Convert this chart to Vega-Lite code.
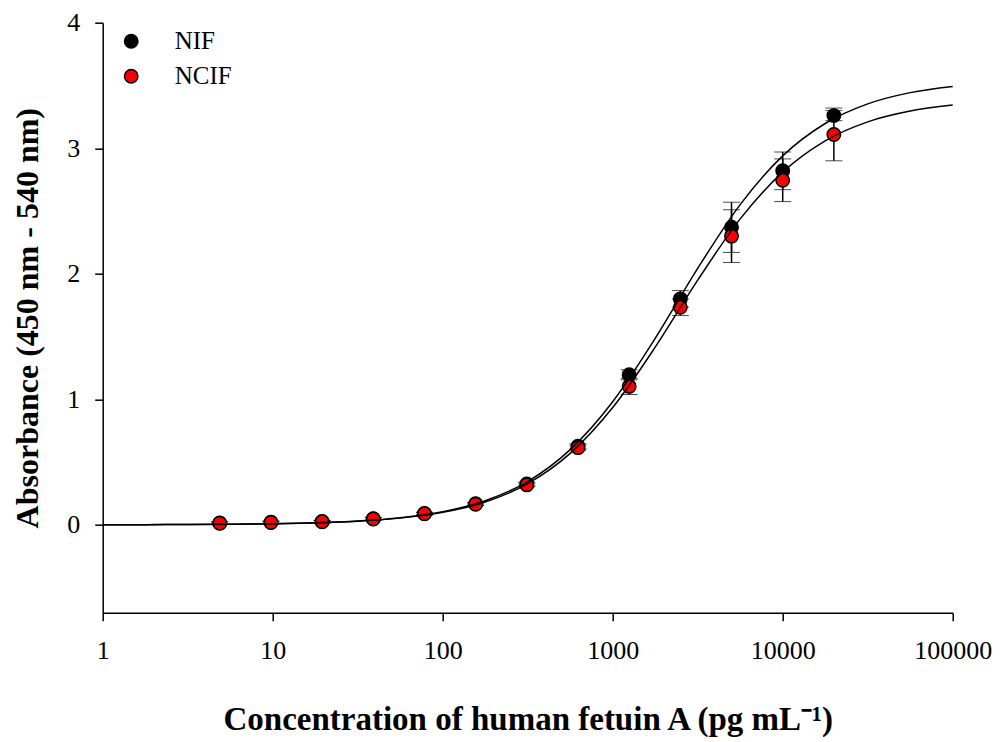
{
  "$schema": "https://vega.github.io/schema/vega-lite/v6.json",
  "width": 850,
  "height": 590,
  "autosize": {"type": "none"},
  "padding": {"left": 102.7, "top": 22.7, "right": 47.3, "bottom": 129.3},
  "background": "white",
  "config": {
    "view": {"stroke": null},
    "font": "Liberation Serif",
    "axis": {"grid": false, "domainColor": "black", "domainWidth": 1.5, "tickColor": "black", "tickWidth": 1.5, "tickSize": 8, "labelFont": "Liberation Serif", "labelFontSize": 26, "labelColor": "black", "titleFont": "Liberation Serif", "titleColor": "black", "titleFontWeight": "bold"}
  },
  "datasets": {
    "points": [
      {"series": "NIF", "conc": 4.88, "mean": 0.015, "sd": 0.01},
      {"series": "NIF", "conc": 9.77, "mean": 0.02, "sd": 0.01},
      {"series": "NIF", "conc": 19.53, "mean": 0.026, "sd": 0.01},
      {"series": "NIF", "conc": 39.06, "mean": 0.049, "sd": 0.01},
      {"series": "NIF", "conc": 78.13, "mean": 0.09, "sd": 0.01},
      {"series": "NIF", "conc": 156.25, "mean": 0.168, "sd": 0.01},
      {"series": "NIF", "conc": 312.5, "mean": 0.326, "sd": 0.015},
      {"series": "NIF", "conc": 625, "mean": 0.626, "sd": 0.02},
      {"series": "NIF", "conc": 1250, "mean": 1.195, "sd": 0.04},
      {"series": "NIF", "conc": 2500, "mean": 1.80, "sd": 0.066},
      {"series": "NIF", "conc": 5000, "mean": 2.37, "sd": 0.2},
      {"series": "NIF", "conc": 10000, "mean": 2.82, "sd": 0.15},
      {"series": "NIF", "conc": 20000, "mean": 3.26, "sd": 0.04},
      {"series": "NCIF", "conc": 4.88, "mean": 0.013, "sd": 0.01},
      {"series": "NCIF", "conc": 9.77, "mean": 0.018, "sd": 0.01},
      {"series": "NCIF", "conc": 19.53, "mean": 0.024, "sd": 0.01},
      {"series": "NCIF", "conc": 39.06, "mean": 0.047, "sd": 0.01},
      {"series": "NCIF", "conc": 78.13, "mean": 0.088, "sd": 0.01},
      {"series": "NCIF", "conc": 156.25, "mean": 0.164, "sd": 0.01},
      {"series": "NCIF", "conc": 312.5, "mean": 0.318, "sd": 0.015},
      {"series": "NCIF", "conc": 625, "mean": 0.615, "sd": 0.02},
      {"series": "NCIF", "conc": 1250, "mean": 1.103, "sd": 0.065},
      {"series": "NCIF", "conc": 2500, "mean": 1.733, "sd": 0.066},
      {"series": "NCIF", "conc": 5000, "mean": 2.30, "sd": 0.21},
      {"series": "NCIF", "conc": 10000, "mean": 2.745, "sd": 0.17},
      {"series": "NCIF", "conc": 20000, "mean": 3.11, "sd": 0.21}
    ],
    "curves": [
      {"series": "NIF", "conc": 1, "abs": 0.0007},
      {"series": "NIF", "conc": 1.778, "abs": 0.0013},
      {"series": "NIF", "conc": 3.162, "abs": 0.0024},
      {"series": "NIF", "conc": 5.623, "abs": 0.0045},
      {"series": "NIF", "conc": 10, "abs": 0.0085},
      {"series": "NIF", "conc": 17.78, "abs": 0.016},
      {"series": "NIF", "conc": 31.62, "abs": 0.030},
      {"series": "NIF", "conc": 56.23, "abs": 0.056},
      {"series": "NIF", "conc": 100, "abs": 0.1045},
      {"series": "NIF", "conc": 177.8, "abs": 0.192},
      {"series": "NIF", "conc": 316.2, "abs": 0.345},
      {"series": "NIF", "conc": 562.3, "abs": 0.599},
      {"series": "NIF", "conc": 1000, "abs": 0.981},
      {"series": "NIF", "conc": 1778, "abs": 1.485},
      {"series": "NIF", "conc": 3162, "abs": 2.043},
      {"series": "NIF", "conc": 5623, "abs": 2.551},
      {"series": "NIF", "conc": 10000, "abs": 2.939},
      {"series": "NIF", "conc": 17783, "abs": 3.197},
      {"series": "NIF", "conc": 31623, "abs": 3.353},
      {"series": "NIF", "conc": 56234, "abs": 3.443},
      {"series": "NIF", "conc": 100000, "abs": 3.492},
      {"series": "NCIF", "conc": 1, "abs": 0.0006},
      {"series": "NCIF", "conc": 1.778, "abs": 0.0012},
      {"series": "NCIF", "conc": 3.162, "abs": 0.0023},
      {"series": "NCIF", "conc": 5.623, "abs": 0.0043},
      {"series": "NCIF", "conc": 10, "abs": 0.0081},
      {"series": "NCIF", "conc": 17.78, "abs": 0.0152},
      {"series": "NCIF", "conc": 31.62, "abs": 0.0286},
      {"series": "NCIF", "conc": 56.23, "abs": 0.0534},
      {"series": "NCIF", "conc": 100, "abs": 0.0992},
      {"series": "NCIF", "conc": 177.8, "abs": 0.182},
      {"series": "NCIF", "conc": 316.2, "abs": 0.328},
      {"series": "NCIF", "conc": 562.3, "abs": 0.569},
      {"series": "NCIF", "conc": 1000, "abs": 0.934},
      {"series": "NCIF", "conc": 1778, "abs": 1.415},
      {"series": "NCIF", "conc": 3162, "abs": 1.949},
      {"series": "NCIF", "conc": 5623, "abs": 2.437},
      {"series": "NCIF", "conc": 10000, "abs": 2.810},
      {"series": "NCIF", "conc": 17783, "abs": 3.059},
      {"series": "NCIF", "conc": 31623, "abs": 3.210},
      {"series": "NCIF", "conc": 56234, "abs": 3.296},
      {"series": "NCIF", "conc": 100000, "abs": 3.344}
    ]
  },
  "encoding": {
    "x": {"field": "conc", "type": "quantitative",
      "scale": {"type": "log", "domain": [1, 100000], "nice": false},
      "axis": {"values": [1, 10, 100, 1000, 10000, 100000], "format": "d", "labelFlush": false, "labelBound": false, "labelOverlap": false, "labelPadding": 17, "title": "Concentration of human fetuin A (pg mL⁻¹)", "titleFontSize": 33, "titlePadding": 40}}
  },
  "layer": [
    {
      "data": {"name": "points"},
      "mark": {"type": "errorbar", "ticks": {"size": 17, "color": "black", "strokeWidth": 1.5}, "rule": {"color": "black", "strokeWidth": 1.5}},
      "encoding": {
        "y": {"field": "mean", "type": "quantitative",
          "scale": {"domain": [-0.7, 4], "nice": false, "zero": false},
          "axis": {"values": [0, 1, 2, 3, 4], "format": "d", "labelFlush": false, "labelPadding": 15, "title": "Absorbance (450 nm - 540 nm)", "titleFontSize": 32, "titlePadding": 22}},
        "yError": {"field": "sd"},
        "detail": {"field": "series"}
      }
    },
    {
      "data": {"name": "points"},
      "transform": [{"filter": "datum.series === 'NIF'"}],
      "mark": {"type": "circle", "size": 180, "stroke": "black", "strokeWidth": 1.5, "opacity": 1},
      "encoding": {
        "y": {"field": "mean", "type": "quantitative"},
        "fill": {"field": "series", "type": "nominal",
          "scale": {"domain": ["NIF", "NCIF"], "range": ["black", "#ff0000"]},
          "legend": {"title": null, "orient": "none", "legendX": 16, "legendY": 6, "labelFont": "Liberation Serif", "labelFontSize": 25, "labelColor": "black", "labelOffset": 31, "symbolSize": 180, "symbolType": "circle", "symbolStrokeColor": "black", "symbolStrokeWidth": 1.5, "rowPadding": 9}}
      }
    },
    {
      "data": {"name": "points"},
      "transform": [{"filter": "datum.series === 'NCIF'"}],
      "mark": {"type": "circle", "size": 180, "stroke": "black", "strokeWidth": 1.5, "opacity": 1},
      "encoding": {
        "y": {"field": "mean", "type": "quantitative"},
        "fill": {"field": "series", "type": "nominal"}
      }
    },
    {
      "data": {"name": "curves"},
      "mark": {"type": "line", "color": "black", "strokeWidth": 1.5, "interpolate": "monotone"},
      "encoding": {
        "y": {"field": "abs", "type": "quantitative"},
        "detail": {"field": "series"}
      }
    }
  ]
}
